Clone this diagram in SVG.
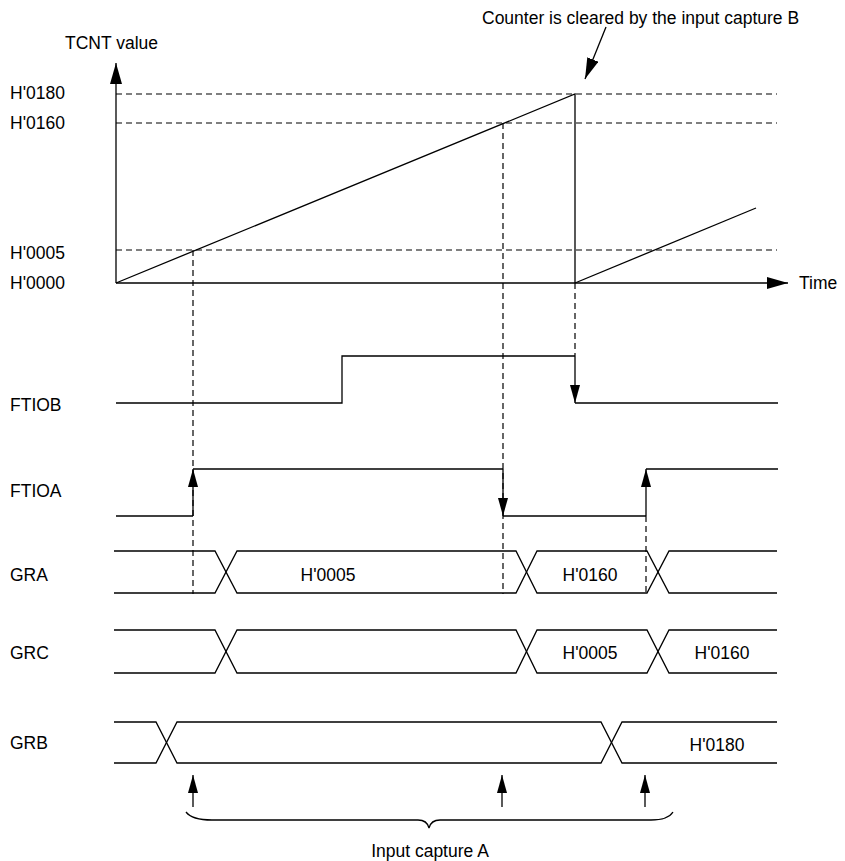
<svg xmlns="http://www.w3.org/2000/svg" width="845" height="861" viewBox="0 0 845 861">
<style>
text{font-family:"Liberation Sans",Arial,sans-serif;font-size:17.5px;fill:#000}
.ln{fill:none;stroke:#000;stroke-width:1.3}
.ds{fill:none;stroke:#000;stroke-width:1.2;stroke-dasharray:6,4}
.ah{fill:#000;stroke:none}
</style>
<defs>
<marker id="big" markerWidth="21" markerHeight="12" refX="21" refY="6" orient="auto" markerUnits="userSpaceOnUse"><path class="ah" d="M0,0 L21,6 L0,12 z"/></marker>
<marker id="sm" markerWidth="18" markerHeight="10" refX="18" refY="5" orient="auto" markerUnits="userSpaceOnUse"><path class="ah" d="M0,0 L18,5 L0,10 z"/></marker>
</defs>
<rect width="845" height="861" fill="#fff"/>

<g id="axes">
<line class="ln" x1="116" y1="283" x2="116" y2="63" marker-end="url(#big)"/>
<line class="ln" x1="116" y1="283" x2="788" y2="283" marker-end="url(#big)"/>
<text x="65" y="49">TCNT value</text>
<text x="799" y="289">Time</text>
<text x="10" y="99">H'0180</text>
<text x="10" y="129">H'0160</text>
<text x="10" y="259">H'0005</text>
<text x="10" y="289">H'0000</text>
</g>

<g id="guides">
<line class="ds" x1="116" y1="94" x2="777" y2="94"/>
<line class="ds" x1="116" y1="123" x2="777" y2="123"/>
<line class="ds" x1="116" y1="250" x2="777" y2="250"/>
<line class="ds" x1="193" y1="250" x2="193" y2="594"/>
<line class="ds" x1="503" y1="123" x2="503" y2="594"/>
<line class="ds" x1="575" y1="283" x2="575" y2="356"/>
<line class="ds" x1="646" y1="516" x2="646" y2="594"/>
</g>

<g id="tcnt">
<polyline class="ln" points="116,283 575,94 575,283"/>
<line class="ln" x1="575" y1="283" x2="756" y2="208"/>
</g>

<g id="note">
<text x="482" y="24">Counter is cleared by the input capture B</text>
<line class="ln" x1="606" y1="27" x2="585" y2="79" marker-end="url(#big)"/>
</g>

<g id="ftiob">
<text x="10" y="411">FTIOB</text>
<polyline class="ln" points="116,403 342,403 342,356 575,356"/>
<line class="ln" x1="575" y1="356" x2="575" y2="403" marker-end="url(#sm)"/>
<line class="ln" x1="575" y1="403" x2="778" y2="403"/>
</g>

<g id="ftioa">
<text x="10" y="497">FTIOA</text>
<polyline class="ln" points="116,516 193,516"/>
<line class="ln" x1="193" y1="516" x2="193" y2="469" marker-end="url(#sm)"/>
<line class="ln" x1="193" y1="469" x2="503" y2="469"/>
<line class="ln" x1="503" y1="469" x2="503" y2="516" marker-end="url(#sm)"/>
<line class="ln" x1="503" y1="516" x2="646" y2="516"/>
<line class="ln" x1="646" y1="516" x2="646" y2="469" marker-end="url(#sm)"/>
<line class="ln" x1="646" y1="469" x2="778" y2="469"/>
</g>

<g id="gra">
<text x="10" y="581">GRA</text>
<polyline class="ln" points="114,551 215,551 237,593 516,593 537,551 647,551 669,593 777,593"/>
<polyline class="ln" points="114,593 215,593 237,551 516,551 537,593 647,593 669,551 777,551"/>
<text x="328" y="581" text-anchor="middle">H'0005</text>
<text x="590" y="581" text-anchor="middle">H'0160</text>
</g>

<g id="grc">
<text x="10" y="659">GRC</text>
<polyline class="ln" points="114,630 215,630 237,673 516,673 537,630 647,630 669,673 777,673"/>
<polyline class="ln" points="114,673 215,673 237,630 516,630 537,673 647,673 669,630 777,630"/>
<text x="590" y="659" text-anchor="middle">H'0005</text>
<text x="722" y="659" text-anchor="middle">H'0160</text>
</g>

<g id="grb">
<text x="10" y="749">GRB</text>
<polyline class="ln" points="114,722 156,722 177,763 601,763 622,722 777,722"/>
<polyline class="ln" points="114,763 156,763 177,722 601,722 622,763 777,763"/>
<text x="717" y="751" text-anchor="middle">H'0180</text>
</g>

<g id="capture">
<line class="ln" x1="193" y1="807" x2="193" y2="775" marker-end="url(#sm)"/>
<line class="ln" x1="502" y1="807" x2="502" y2="775" marker-end="url(#sm)"/>
<line class="ln" x1="645" y1="807" x2="645" y2="775" marker-end="url(#sm)"/>
<path class="ln" d="M186,812 Q192,820 212,820 L418,820 Q427,820 429,828 Q431,820 440,820 L651,820 Q668,820 673,812"/>
<text x="430" y="857" text-anchor="middle">Input capture A</text>
</g>
</svg>
